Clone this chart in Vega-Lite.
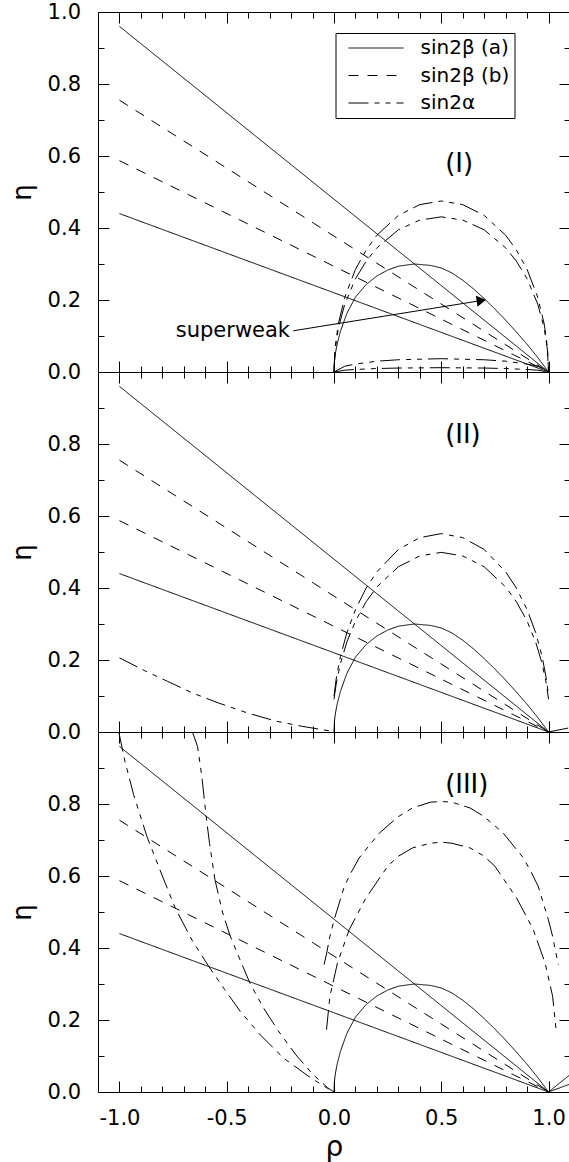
{
  "$schema": "https://vega.github.io/schema/vega-lite/v6.json",
  "padding": {"left": 8, "top": 0, "right": 0, "bottom": 0},
  "bounds": "flush",
  "spacing": 0,
  "resolve": {"scale": {"strokeDash": "independent"}, "legend": {"strokeDash": "independent"}},
  "datasets": {
    "curves": [
      {"p":0,"c":"a1","t":"sin2β (a)","x":-1,"y":0.96},{"p":0,"c":"a1","t":"sin2β (a)","x":1,"y":0},
      {"p":0,"c":"a2","t":"sin2β (a)","x":-1,"y":0.44},{"p":0,"c":"a2","t":"sin2β (a)","x":1,"y":0},
      {"p":0,"c":"a3","t":"sin2β (a)","x":0,"y":0},{"p":0,"c":"a3","t":"sin2β (a)","x":0.002,"y":0.03},{"p":0,"c":"a3","t":"sin2β (a)","x":0.005,"y":0.045},{"p":0,"c":"a3","t":"sin2β (a)","x":0.01,"y":0.063},{"p":0,"c":"a3","t":"sin2β (a)","x":0.015,"y":0.078},{"p":0,"c":"a3","t":"sin2β (a)","x":0.03,"y":0.113},{"p":0,"c":"a3","t":"sin2β (a)","x":0.06,"y":0.163},{"p":0,"c":"a3","t":"sin2β (a)","x":0.1,"y":0.208},{"p":0,"c":"a3","t":"sin2β (a)","x":0.15,"y":0.243},{"p":0,"c":"a3","t":"sin2β (a)","x":0.2,"y":0.267},{"p":0,"c":"a3","t":"sin2β (a)","x":0.25,"y":0.283},{"p":0,"c":"a3","t":"sin2β (a)","x":0.3,"y":0.294},{"p":0,"c":"a3","t":"sin2β (a)","x":0.375,"y":0.3},{"p":0,"c":"a3","t":"sin2β (a)","x":0.45,"y":0.296},{"p":0,"c":"a3","t":"sin2β (a)","x":0.5,"y":0.289},{"p":0,"c":"a3","t":"sin2β (a)","x":0.55,"y":0.275},{"p":0,"c":"a3","t":"sin2β (a)","x":0.6,"y":0.255},{"p":0,"c":"a3","t":"sin2β (a)","x":0.65,"y":0.231},{"p":0,"c":"a3","t":"sin2β (a)","x":0.7,"y":0.204},{"p":0,"c":"a3","t":"sin2β (a)","x":0.75,"y":0.175},{"p":0,"c":"a3","t":"sin2β (a)","x":0.8,"y":0.144},{"p":0,"c":"a3","t":"sin2β (a)","x":0.85,"y":0.111},{"p":0,"c":"a3","t":"sin2β (a)","x":0.9,"y":0.077},{"p":0,"c":"a3","t":"sin2β (a)","x":0.95,"y":0.04},{"p":0,"c":"a3","t":"sin2β (a)","x":1,"y":0},
      {"p":0,"c":"b1","t":"sin2β (b)","x":-1,"y":0.755},{"p":0,"c":"b1","t":"sin2β (b)","x":1,"y":0},
      {"p":0,"c":"b2","t":"sin2β (b)","x":-1,"y":0.587},{"p":0,"c":"b2","t":"sin2β (b)","x":1,"y":0},

      {"p":1,"c":"o1","t":"sin2α","x":0,"y":0},{"p":1,"c":"o1","t":"sin2α","x":0.005,"y":0.067},{"p":1,"c":"o1","t":"sin2α","x":0.02,"y":0.133},{"p":1,"c":"o1","t":"sin2α","x":0.05,"y":0.207},{"p":1,"c":"o1","t":"sin2α","x":0.1,"y":0.285},{"p":1,"c":"o1","t":"sin2α","x":0.15,"y":0.339},{"p":1,"c":"o1","t":"sin2α","x":0.2,"y":0.38},{"p":1,"c":"o1","t":"sin2α","x":0.3,"y":0.435},{"p":1,"c":"o1","t":"sin2α","x":0.4,"y":0.465},{"p":1,"c":"o1","t":"sin2α","x":0.5,"y":0.475},{"p":1,"c":"o1","t":"sin2α","x":0.6,"y":0.465},{"p":1,"c":"o1","t":"sin2α","x":0.7,"y":0.435},{"p":1,"c":"o1","t":"sin2α","x":0.8,"y":0.38},{"p":1,"c":"o1","t":"sin2α","x":0.85,"y":0.339},{"p":1,"c":"o1","t":"sin2α","x":0.9,"y":0.285},{"p":1,"c":"o1","t":"sin2α","x":0.95,"y":0.207},{"p":1,"c":"o1","t":"sin2α","x":0.98,"y":0.133},{"p":1,"c":"o1","t":"sin2α","x":0.995,"y":0.067},{"p":1,"c":"o1","t":"sin2α","x":1,"y":0},
      {"p":1,"c":"i1","t":"sin2α","x":0,"y":0},{"p":1,"c":"i1","t":"sin2α","x":0.005,"y":0.061},{"p":1,"c":"i1","t":"sin2α","x":0.02,"y":0.121},{"p":1,"c":"i1","t":"sin2α","x":0.05,"y":0.188},{"p":1,"c":"i1","t":"sin2α","x":0.1,"y":0.259},{"p":1,"c":"i1","t":"sin2α","x":0.15,"y":0.308},{"p":1,"c":"i1","t":"sin2α","x":0.2,"y":0.345},{"p":1,"c":"i1","t":"sin2α","x":0.3,"y":0.395},{"p":1,"c":"i1","t":"sin2α","x":0.4,"y":0.422},{"p":1,"c":"i1","t":"sin2α","x":0.5,"y":0.431},{"p":1,"c":"i1","t":"sin2α","x":0.6,"y":0.422},{"p":1,"c":"i1","t":"sin2α","x":0.7,"y":0.395},{"p":1,"c":"i1","t":"sin2α","x":0.8,"y":0.345},{"p":1,"c":"i1","t":"sin2α","x":0.85,"y":0.308},{"p":1,"c":"i1","t":"sin2α","x":0.9,"y":0.259},{"p":1,"c":"i1","t":"sin2α","x":0.95,"y":0.188},{"p":1,"c":"i1","t":"sin2α","x":0.98,"y":0.121},{"p":1,"c":"i1","t":"sin2α","x":0.995,"y":0.061},{"p":1,"c":"i1","t":"sin2α","x":1,"y":0},
      {"p":1,"c":"s1","t":"sin2α","x":0,"y":0},{"p":1,"c":"s1","t":"sin2α","x":0.05,"y":0.016},{"p":1,"c":"s1","t":"sin2α","x":0.1,"y":0.022},{"p":1,"c":"s1","t":"sin2α","x":0.2,"y":0.03},{"p":1,"c":"s1","t":"sin2α","x":0.3,"y":0.034},{"p":1,"c":"s1","t":"sin2α","x":0.5,"y":0.037},{"p":1,"c":"s1","t":"sin2α","x":0.7,"y":0.034},{"p":1,"c":"s1","t":"sin2α","x":0.8,"y":0.03},{"p":1,"c":"s1","t":"sin2α","x":0.9,"y":0.022},{"p":1,"c":"s1","t":"sin2α","x":0.95,"y":0.016},{"p":1,"c":"s1","t":"sin2α","x":1,"y":0},
      {"p":1,"c":"t1","t":"sin2α","x":0,"y":0},{"p":1,"c":"t1","t":"sin2α","x":0.05,"y":0.005},{"p":1,"c":"t1","t":"sin2α","x":0.1,"y":0.007},{"p":1,"c":"t1","t":"sin2α","x":0.2,"y":0.0096},{"p":1,"c":"t1","t":"sin2α","x":0.3,"y":0.011},{"p":1,"c":"t1","t":"sin2α","x":0.5,"y":0.012},{"p":1,"c":"t1","t":"sin2α","x":0.7,"y":0.011},{"p":1,"c":"t1","t":"sin2α","x":0.8,"y":0.0096},{"p":1,"c":"t1","t":"sin2α","x":0.9,"y":0.007},{"p":1,"c":"t1","t":"sin2α","x":0.95,"y":0.005},{"p":1,"c":"t1","t":"sin2α","x":1,"y":0},

      {"p":2,"c":"o2","t":"sin2α","x":0,"y":0.1},{"p":2,"c":"o2","t":"sin2α","x":0.01,"y":0.147},{"p":2,"c":"o2","t":"sin2α","x":0.03,"y":0.21},{"p":2,"c":"o2","t":"sin2α","x":0.06,"y":0.276},{"p":2,"c":"o2","t":"sin2α","x":0.1,"y":0.34},{"p":2,"c":"o2","t":"sin2α","x":0.15,"y":0.4},{"p":2,"c":"o2","t":"sin2α","x":0.2,"y":0.445},{"p":2,"c":"o2","t":"sin2α","x":0.3,"y":0.507},{"p":2,"c":"o2","t":"sin2α","x":0.4,"y":0.54},{"p":2,"c":"o2","t":"sin2α","x":0.5,"y":0.551},{"p":2,"c":"o2","t":"sin2α","x":0.6,"y":0.54},{"p":2,"c":"o2","t":"sin2α","x":0.7,"y":0.507},{"p":2,"c":"o2","t":"sin2α","x":0.8,"y":0.445},{"p":2,"c":"o2","t":"sin2α","x":0.85,"y":0.4},{"p":2,"c":"o2","t":"sin2α","x":0.9,"y":0.34},{"p":2,"c":"o2","t":"sin2α","x":0.94,"y":0.276},{"p":2,"c":"o2","t":"sin2α","x":0.97,"y":0.21},{"p":2,"c":"o2","t":"sin2α","x":0.99,"y":0.147},{"p":2,"c":"o2","t":"sin2α","x":1,"y":0.1},
      {"p":2,"c":"i2","t":"sin2α","x":0,"y":0.091},{"p":2,"c":"i2","t":"sin2α","x":0.01,"y":0.133},{"p":2,"c":"i2","t":"sin2α","x":0.03,"y":0.19},{"p":2,"c":"i2","t":"sin2α","x":0.06,"y":0.25},{"p":2,"c":"i2","t":"sin2α","x":0.1,"y":0.308},{"p":2,"c":"i2","t":"sin2α","x":0.15,"y":0.362},{"p":2,"c":"i2","t":"sin2α","x":0.2,"y":0.403},{"p":2,"c":"i2","t":"sin2α","x":0.3,"y":0.459},{"p":2,"c":"i2","t":"sin2α","x":0.4,"y":0.489},{"p":2,"c":"i2","t":"sin2α","x":0.5,"y":0.499},{"p":2,"c":"i2","t":"sin2α","x":0.6,"y":0.489},{"p":2,"c":"i2","t":"sin2α","x":0.7,"y":0.459},{"p":2,"c":"i2","t":"sin2α","x":0.8,"y":0.403},{"p":2,"c":"i2","t":"sin2α","x":0.85,"y":0.362},{"p":2,"c":"i2","t":"sin2α","x":0.9,"y":0.308},{"p":2,"c":"i2","t":"sin2α","x":0.94,"y":0.25},{"p":2,"c":"i2","t":"sin2α","x":0.97,"y":0.19},{"p":2,"c":"i2","t":"sin2α","x":0.99,"y":0.133},{"p":2,"c":"i2","t":"sin2α","x":1,"y":0.091},
      {"p":2,"c":"l2","t":"sin2α","x":-1,"y":0.206},{"p":2,"c":"l2","t":"sin2α","x":-0.878,"y":0.169},{"p":2,"c":"l2","t":"sin2α","x":-0.777,"y":0.141},{"p":2,"c":"l2","t":"sin2α","x":-0.658,"y":0.108},{"p":2,"c":"l2","t":"sin2α","x":-0.54,"y":0.081},{"p":2,"c":"l2","t":"sin2α","x":-0.404,"y":0.053},{"p":2,"c":"l2","t":"sin2α","x":-0.269,"y":0.03},{"p":2,"c":"l2","t":"sin2α","x":-0.151,"y":0.016},{"p":2,"c":"l2","t":"sin2α","x":-0.069,"y":0.008},{"p":2,"c":"l2","t":"sin2α","x":-0.02,"y":0.003},
      {"p":2,"c":"r2","t":"sin2α","x":1,"y":0},{"p":2,"c":"r2","t":"sin2α","x":1.1,"y":0.012},

      {"p":3,"c":"o3","t":"sin2α","x":-0.046,"y":0.354},{"p":3,"c":"o3","t":"sin2α","x":-0.034,"y":0.386},{"p":3,"c":"o3","t":"sin2α","x":-0.02,"y":0.43},{"p":3,"c":"o3","t":"sin2α","x":0.001,"y":0.479},{"p":3,"c":"o3","t":"sin2α","x":0.048,"y":0.571},{"p":3,"c":"o3","t":"sin2α","x":0.08,"y":0.61},{"p":3,"c":"o3","t":"sin2α","x":0.117,"y":0.65},{"p":3,"c":"o3","t":"sin2α","x":0.211,"y":0.719},{"p":3,"c":"o3","t":"sin2α","x":0.3,"y":0.765},{"p":3,"c":"o3","t":"sin2α","x":0.366,"y":0.789},{"p":3,"c":"o3","t":"sin2α","x":0.45,"y":0.805},{"p":3,"c":"o3","t":"sin2α","x":0.5,"y":0.807},{"p":3,"c":"o3","t":"sin2α","x":0.55,"y":0.805},{"p":3,"c":"o3","t":"sin2α","x":0.634,"y":0.789},{"p":3,"c":"o3","t":"sin2α","x":0.7,"y":0.765},{"p":3,"c":"o3","t":"sin2α","x":0.789,"y":0.719},{"p":3,"c":"o3","t":"sin2α","x":0.883,"y":0.65},{"p":3,"c":"o3","t":"sin2α","x":0.92,"y":0.61},{"p":3,"c":"o3","t":"sin2α","x":0.952,"y":0.571},{"p":3,"c":"o3","t":"sin2α","x":0.999,"y":0.479},{"p":3,"c":"o3","t":"sin2α","x":1.02,"y":0.43},{"p":3,"c":"o3","t":"sin2α","x":1.034,"y":0.386},{"p":3,"c":"o3","t":"sin2α","x":1.046,"y":0.354},
      {"p":3,"c":"i3","t":"sin2α","x":-0.035,"y":0.173},{"p":3,"c":"i3","t":"sin2α","x":-0.019,"y":0.266},{"p":3,"c":"i3","t":"sin2α","x":0.016,"y":0.358},{"p":3,"c":"i3","t":"sin2α","x":0.071,"y":0.451},{"p":3,"c":"i3","t":"sin2α","x":0.149,"y":0.539},{"p":3,"c":"i3","t":"sin2α","x":0.25,"y":0.627},{"p":3,"c":"i3","t":"sin2α","x":0.3,"y":0.655},{"p":3,"c":"i3","t":"sin2α","x":0.366,"y":0.678},{"p":3,"c":"i3","t":"sin2α","x":0.45,"y":0.691},{"p":3,"c":"i3","t":"sin2α","x":0.5,"y":0.694},{"p":3,"c":"i3","t":"sin2α","x":0.55,"y":0.691},{"p":3,"c":"i3","t":"sin2α","x":0.634,"y":0.678},{"p":3,"c":"i3","t":"sin2α","x":0.7,"y":0.655},{"p":3,"c":"i3","t":"sin2α","x":0.75,"y":0.627},{"p":3,"c":"i3","t":"sin2α","x":0.851,"y":0.539},{"p":3,"c":"i3","t":"sin2α","x":0.929,"y":0.451},{"p":3,"c":"i3","t":"sin2α","x":0.984,"y":0.358},{"p":3,"c":"i3","t":"sin2α","x":1.019,"y":0.266},{"p":3,"c":"i3","t":"sin2α","x":1.035,"y":0.173},
      {"p":3,"c":"P3","t":"sin2α","x":-1.003,"y":1.0},{"p":3,"c":"P3","t":"sin2α","x":-0.975,"y":0.92},{"p":3,"c":"P3","t":"sin2α","x":-0.934,"y":0.826},{"p":3,"c":"P3","t":"sin2α","x":-0.872,"y":0.71},{"p":3,"c":"P3","t":"sin2α","x":-0.8,"y":0.6},{"p":3,"c":"P3","t":"sin2α","x":-0.74,"y":0.511},{"p":3,"c":"P3","t":"sin2α","x":-0.66,"y":0.42},{"p":3,"c":"P3","t":"sin2α","x":-0.584,"y":0.349},{"p":3,"c":"P3","t":"sin2α","x":-0.51,"y":0.285},{"p":3,"c":"P3","t":"sin2α","x":-0.437,"y":0.224},{"p":3,"c":"P3","t":"sin2α","x":-0.344,"y":0.159},{"p":3,"c":"P3","t":"sin2α","x":-0.235,"y":0.094},{"p":3,"c":"P3","t":"sin2α","x":-0.11,"y":0.04},{"p":3,"c":"P3","t":"sin2α","x":-0.03,"y":0.01},{"p":3,"c":"P3","t":"sin2α","x":0,"y":0},
      {"p":3,"c":"Q3","t":"sin2α","x":-0.66,"y":1.0},{"p":3,"c":"Q3","t":"sin2α","x":-0.636,"y":0.96},{"p":3,"c":"Q3","t":"sin2α","x":-0.616,"y":0.877},{"p":3,"c":"Q3","t":"sin2α","x":-0.596,"y":0.766},{"p":3,"c":"Q3","t":"sin2α","x":-0.58,"y":0.69},{"p":3,"c":"Q3","t":"sin2α","x":-0.555,"y":0.59},{"p":3,"c":"Q3","t":"sin2α","x":-0.52,"y":0.5},{"p":3,"c":"Q3","t":"sin2α","x":-0.485,"y":0.435},{"p":3,"c":"Q3","t":"sin2α","x":-0.44,"y":0.37},{"p":3,"c":"Q3","t":"sin2α","x":-0.39,"y":0.3},{"p":3,"c":"Q3","t":"sin2α","x":-0.33,"y":0.235},{"p":3,"c":"Q3","t":"sin2α","x":-0.26,"y":0.17},{"p":3,"c":"Q3","t":"sin2α","x":-0.18,"y":0.105},{"p":3,"c":"Q3","t":"sin2α","x":-0.1,"y":0.05},{"p":3,"c":"Q3","t":"sin2α","x":-0.03,"y":0.012},{"p":3,"c":"Q3","t":"sin2α","x":0,"y":0},
      {"p":3,"c":"f1","t":"sin2β (a)","x":1,"y":0},{"p":3,"c":"f1","t":"sin2β (a)","x":1.1,"y":0.048},
      {"p":3,"c":"f2","t":"sin2β (a)","x":1,"y":0},{"p":3,"c":"f2","t":"sin2β (a)","x":1.1,"y":0.022}
    ],
    "notes": [
      {"p":1,"label":"(I)","x":0.518,"y":0.578},
      {"p":2,"label":"(II)","x":0.518,"y":0.826},
      {"p":3,"label":"(III)","x":0.518,"y":0.854}
    ],
    "superweak": [
      {"label":"superweak","x":-0.205,"y":0.114,"x2":0.687,"y2":0.1985,"x0":-0.19,"y0":0.1145}
    ]
  },
  "vconcat": [
    {
      "width": 472, "height": 360,
      "resolve": {"axis": {"x": "independent", "y": "independent"}},
      "layer": [
        {
          "data": {"name": "curves"},
          "transform": [{"filter": "(datum.p == 0 || datum.p == 1) && datum.t == 'sin2β (a)'"}],
          "mark": {"type": "line", "clip": true, "color": "black", "strokeWidth": 1},
          "encoding": {
            "x": {"field": "x", "type": "quantitative", "scale": {"domain": [-1.1, 1.1], "nice": false, "zero": false}, "axis": {"orient": "bottom", "values": [-1, -0.5, 0, 0.5, 1], "tickSize": -11, "labels": false, "title": null}},
            "y": {"field": "y", "type": "quantitative", "scale": {"domain": [0, 1], "nice": false, "zero": false}, "axis": {"orient": "left", "values": [0, 0.2, 0.4, 0.6, 0.8, 1], "tickSize": -11, "labelPadding": 28.5, "format": ".1f", "title": "η", "titleFontSize": 26, "titlePadding": 12}},
            "detail": {"field": "c"},
            "strokeDash": {"field": "t", "type": "nominal", "scale": {"domain": ["sin2β (a)", "sin2β (b)", "sin2α"], "range": [[1, 0], [10, 9], [20, 6, 5, 6, 5, 6]]},
              "legend": {"orient": "none", "legendX": 237.5, "legendY": 21, "title": null, "strokeColor": "black", "fillColor": "white", "padding": 5, "symbolType": "M-0.21,0H5.58", "symbolSize": 361, "symbolStrokeWidth": 1, "symbolStrokeColor": "black", "labelFontSize": 20, "labelFont": "DejaVu Sans", "labelColor": "black", "labelOffset": 60, "rowPadding": 7.5}}
          }
        },
        {
          "data": {"name": "curves"},
          "transform": [{"filter": "(datum.p == 0 || datum.p == 1) && datum.t == 'sin2β (b)'"}],
          "mark": {"type": "line", "clip": true, "color": "black", "strokeWidth": 1},
          "encoding": {
            "x": {"field": "x", "type": "quantitative", "scale": {"domain": [-1.1, 1.1], "nice": false, "zero": false}, "axis": {"orient": "bottom", "values": [-0.9, -0.8, -0.7, -0.6, -0.4, -0.3, -0.2, -0.1, 0.1, 0.2, 0.3, 0.4, 0.6, 0.7, 0.8, 0.9], "tickSize": -6, "labels": false, "title": null}},
            "y": {"field": "y", "type": "quantitative", "scale": {"domain": [0, 1], "nice": false, "zero": false}, "axis": {"orient": "left", "values": [0.1, 0.3, 0.5, 0.7, 0.9], "tickSize": -6, "labels": false, "title": null}},
            "detail": {"field": "c"},
            "strokeDash": {"field": "t", "type": "nominal", "scale": {"domain": ["sin2β (a)", "sin2β (b)", "sin2α"], "range": [[1, 0], [10, 9], [20, 6, 5, 6, 5, 6]]},
              "legend": {"orient": "none", "legendX": 237.5, "legendY": 21, "title": null, "strokeColor": "black", "fillColor": "white", "padding": 5, "symbolType": "M-0.21,0H5.58", "symbolSize": 361, "symbolStrokeWidth": 1, "symbolStrokeColor": "black", "labelFontSize": 20, "labelFont": "DejaVu Sans", "labelColor": "black", "labelOffset": 60, "rowPadding": 7.5}}
          }
        },
        {
          "data": {"name": "curves"},
          "transform": [{"filter": "datum.p == 1 && datum.t == 'sin2α'"}],
          "mark": {"type": "line", "clip": true, "color": "black", "strokeWidth": 1},
          "encoding": {
            "x": {"field": "x", "type": "quantitative", "scale": {"domain": [-1.1, 1.1], "nice": false, "zero": false}, "axis": {"orient": "top", "values": [-1, -0.5, 0, 0.5, 1], "tickSize": -11, "labels": false, "title": null}},
            "y": {"field": "y", "type": "quantitative", "scale": {"domain": [0, 1], "nice": false, "zero": false}, "axis": {"orient": "right", "values": [0, 0.2, 0.4, 0.6, 0.8, 1], "tickSize": -11, "labels": false, "title": null}},
            "detail": {"field": "c"},
            "strokeDash": {"field": "t", "type": "nominal", "scale": {"domain": ["sin2β (a)", "sin2β (b)", "sin2α"], "range": [[1, 0], [10, 9], [20, 6, 5, 6, 5, 6]]},
              "legend": {"orient": "none", "legendX": 237.5, "legendY": 21, "title": null, "strokeColor": "black", "fillColor": "white", "padding": 5, "symbolType": "M-0.21,0H5.58", "symbolSize": 361, "symbolStrokeWidth": 1, "symbolStrokeColor": "black", "labelFontSize": 20, "labelFont": "DejaVu Sans", "labelColor": "black", "labelOffset": 60, "rowPadding": 7.5}}
          }
        },
        {
          "data": {"name": "notes"},
          "transform": [{"filter": "datum.p == 1"}],
          "mark": {"type": "text", "align": "left", "baseline": "middle", "fontSize": 26, "font": "DejaVu Sans", "color": "black"},
          "encoding": {
            "x": {"field": "x", "type": "quantitative", "scale": {"domain": [-1.1, 1.1], "nice": false, "zero": false}, "axis": {"orient": "top", "values": [-0.9, -0.8, -0.7, -0.6, -0.4, -0.3, -0.2, -0.1, 0.1, 0.2, 0.3, 0.4, 0.6, 0.7, 0.8, 0.9], "tickSize": -6, "labels": false, "title": null}},
            "y": {"field": "y", "type": "quantitative", "scale": {"domain": [0, 1], "nice": false, "zero": false}, "axis": {"orient": "right", "values": [0.1, 0.3, 0.5, 0.7, 0.9], "tickSize": -6, "labels": false, "title": null}},
            "text": {"field": "label"}
          }
        },
        {
          "data": {"name": "superweak"},
          "mark": {"type": "text", "align": "right", "baseline": "middle", "fontSize": 21, "font": "DejaVu Sans", "color": "black"},
          "encoding": {
            "x": {"field": "x", "type": "quantitative", "scale": {"domain": [-1.1, 1.1], "nice": false, "zero": false}, "axis": null},
            "y": {"field": "y", "type": "quantitative", "scale": {"domain": [0, 1], "nice": false, "zero": false}, "axis": null},
            "text": {"field": "label"}
          }
        },
        {
          "data": {"name": "superweak"},
          "mark": {"type": "rule", "color": "black", "strokeWidth": 1},
          "encoding": {
            "x": {"field": "x0", "type": "quantitative", "scale": {"domain": [-1.1, 1.1], "nice": false, "zero": false}, "axis": null},
            "y": {"field": "y0", "type": "quantitative", "scale": {"domain": [0, 1], "nice": false, "zero": false}, "axis": null},
            "x2": {"field": "x2"},
            "y2": {"field": "y2"}
          }
        },
        {
          "data": {"name": "superweak"},
          "mark": {"type": "point", "shape": "triangle-right", "filled": true, "size": 120, "angle": 351, "color": "black", "opacity": 1},
          "encoding": {
            "x": {"field": "x2", "type": "quantitative", "scale": {"domain": [-1.1, 1.1], "nice": false, "zero": false}, "axis": null},
            "y": {"field": "y2", "type": "quantitative", "scale": {"domain": [0, 1], "nice": false, "zero": false}, "axis": null}
          }
        }
      ]
    },
    {
      "width": 472, "height": 360,
      "resolve": {"axis": {"x": "independent", "y": "independent"}},
      "layer": [
        {
          "data": {"name": "curves"},
          "transform": [{"filter": "(datum.p == 0 || datum.p == 2) && datum.t == 'sin2β (a)'"}],
          "mark": {"type": "line", "clip": true, "color": "black", "strokeWidth": 1},
          "encoding": {
            "x": {"field": "x", "type": "quantitative", "scale": {"domain": [-1.1, 1.1], "nice": false, "zero": false}, "axis": {"orient": "bottom", "values": [-1, -0.5, 0, 0.5, 1], "tickSize": -11, "labels": false, "title": null}},
            "y": {"field": "y", "type": "quantitative", "scale": {"domain": [0, 1], "nice": false, "zero": false}, "axis": {"orient": "left", "values": [0, 0.2, 0.4, 0.6, 0.8], "tickSize": -11, "labelPadding": 28.5, "format": ".1f", "title": "η", "titleFontSize": 26, "titlePadding": 12}},
            "detail": {"field": "c"},
            "strokeDash": {"field": "t", "type": "nominal", "scale": {"domain": ["sin2β (a)", "sin2β (b)", "sin2α"], "range": [[1, 0], [10, 9], [20, 6, 5, 6, 5, 6]]}, "legend": null}
          }
        },
        {
          "data": {"name": "curves"},
          "transform": [{"filter": "(datum.p == 0 || datum.p == 2) && datum.t == 'sin2β (b)'"}],
          "mark": {"type": "line", "clip": true, "color": "black", "strokeWidth": 1},
          "encoding": {
            "x": {"field": "x", "type": "quantitative", "scale": {"domain": [-1.1, 1.1], "nice": false, "zero": false}, "axis": {"orient": "bottom", "values": [-0.9, -0.8, -0.7, -0.6, -0.4, -0.3, -0.2, -0.1, 0.1, 0.2, 0.3, 0.4, 0.6, 0.7, 0.8, 0.9], "tickSize": -6, "labels": false, "title": null}},
            "y": {"field": "y", "type": "quantitative", "scale": {"domain": [0, 1], "nice": false, "zero": false}, "axis": {"orient": "left", "values": [0.1, 0.3, 0.5, 0.7, 0.9], "tickSize": -6, "labels": false, "title": null}},
            "detail": {"field": "c"},
            "strokeDash": {"field": "t", "type": "nominal", "scale": {"domain": ["sin2β (a)", "sin2β (b)", "sin2α"], "range": [[1, 0], [10, 9], [20, 6, 5, 6, 5, 6]]}, "legend": null}
          }
        },
        {
          "data": {"name": "curves"},
          "transform": [{"filter": "datum.p == 2 && datum.t == 'sin2α'"}],
          "mark": {"type": "line", "clip": true, "color": "black", "strokeWidth": 1},
          "encoding": {
            "x": {"field": "x", "type": "quantitative", "scale": {"domain": [-1.1, 1.1], "nice": false, "zero": false}, "axis": {"orient": "top", "values": [-1, -0.5, 0, 0.5, 1], "tickSize": -11, "labels": false, "title": null}},
            "y": {"field": "y", "type": "quantitative", "scale": {"domain": [0, 1], "nice": false, "zero": false}, "axis": {"orient": "right", "values": [0, 0.2, 0.4, 0.6, 0.8, 1], "tickSize": -11, "labels": false, "title": null}},
            "detail": {"field": "c"},
            "strokeDash": {"field": "t", "type": "nominal", "scale": {"domain": ["sin2β (a)", "sin2β (b)", "sin2α"], "range": [[1, 0], [10, 9], [20, 6, 5, 6, 5, 6]]}, "legend": null}
          }
        },
        {
          "data": {"name": "notes"},
          "transform": [{"filter": "datum.p == 2"}],
          "mark": {"type": "text", "align": "left", "baseline": "middle", "fontSize": 26, "font": "DejaVu Sans", "color": "black"},
          "encoding": {
            "x": {"field": "x", "type": "quantitative", "scale": {"domain": [-1.1, 1.1], "nice": false, "zero": false}, "axis": {"orient": "top", "values": [-0.9, -0.8, -0.7, -0.6, -0.4, -0.3, -0.2, -0.1, 0.1, 0.2, 0.3, 0.4, 0.6, 0.7, 0.8, 0.9], "tickSize": -6, "labels": false, "title": null}},
            "y": {"field": "y", "type": "quantitative", "scale": {"domain": [0, 1], "nice": false, "zero": false}, "axis": {"orient": "right", "values": [0.1, 0.3, 0.5, 0.7, 0.9], "tickSize": -6, "labels": false, "title": null}},
            "text": {"field": "label"}
          }
        }
      ]
    },
    {
      "width": 472, "height": 360,
      "resolve": {"axis": {"x": "independent", "y": "independent"}},
      "layer": [
        {
          "data": {"name": "curves"},
          "transform": [{"filter": "(datum.p == 0 || datum.p == 3) && datum.t == 'sin2β (a)'"}],
          "mark": {"type": "line", "clip": true, "color": "black", "strokeWidth": 1},
          "encoding": {
            "x": {"field": "x", "type": "quantitative", "scale": {"domain": [-1.1, 1.1], "nice": false, "zero": false}, "axis": {"orient": "bottom", "values": [-1, -0.5, 0, 0.5, 1], "tickSize": -11, "labelPadding": 26, "labelExpr": "replace(format(datum.value, '.1f'), '−', '-')", "title": "ρ", "titleFontSize": 28, "titlePadding": 5}},
            "y": {"field": "y", "type": "quantitative", "scale": {"domain": [0, 1], "nice": false, "zero": false}, "axis": {"orient": "left", "values": [0, 0.2, 0.4, 0.6, 0.8], "tickSize": -11, "labelPadding": 28.5, "format": ".1f", "title": "η", "titleFontSize": 26, "titlePadding": 12}},
            "detail": {"field": "c"},
            "strokeDash": {"field": "t", "type": "nominal", "scale": {"domain": ["sin2β (a)", "sin2β (b)", "sin2α"], "range": [[1, 0], [10, 9], [20, 6, 5, 6, 5, 6]]}, "legend": null}
          }
        },
        {
          "data": {"name": "curves"},
          "transform": [{"filter": "(datum.p == 0 || datum.p == 3) && datum.t == 'sin2β (b)'"}],
          "mark": {"type": "line", "clip": true, "color": "black", "strokeWidth": 1},
          "encoding": {
            "x": {"field": "x", "type": "quantitative", "scale": {"domain": [-1.1, 1.1], "nice": false, "zero": false}, "axis": {"orient": "bottom", "values": [-0.9, -0.8, -0.7, -0.6, -0.4, -0.3, -0.2, -0.1, 0.1, 0.2, 0.3, 0.4, 0.6, 0.7, 0.8, 0.9], "tickSize": -6, "labels": false, "title": null}},
            "y": {"field": "y", "type": "quantitative", "scale": {"domain": [0, 1], "nice": false, "zero": false}, "axis": {"orient": "left", "values": [0.1, 0.3, 0.5, 0.7, 0.9], "tickSize": -6, "labels": false, "title": null}},
            "detail": {"field": "c"},
            "strokeDash": {"field": "t", "type": "nominal", "scale": {"domain": ["sin2β (a)", "sin2β (b)", "sin2α"], "range": [[1, 0], [10, 9], [20, 6, 5, 6, 5, 6]]}, "legend": null}
          }
        },
        {
          "data": {"name": "curves"},
          "transform": [{"filter": "datum.p == 3 && datum.t == 'sin2α'"}],
          "mark": {"type": "line", "clip": true, "color": "black", "strokeWidth": 1},
          "encoding": {
            "x": {"field": "x", "type": "quantitative", "scale": {"domain": [-1.1, 1.1], "nice": false, "zero": false}, "axis": {"orient": "top", "values": [-1, -0.5, 0, 0.5, 1], "tickSize": -11, "labels": false, "title": null}},
            "y": {"field": "y", "type": "quantitative", "scale": {"domain": [0, 1], "nice": false, "zero": false}, "axis": {"orient": "right", "values": [0, 0.2, 0.4, 0.6, 0.8, 1], "tickSize": -11, "labels": false, "title": null}},
            "detail": {"field": "c"},
            "strokeDash": {"field": "t", "type": "nominal", "scale": {"domain": ["sin2β (a)", "sin2β (b)", "sin2α"], "range": [[1, 0], [10, 9], [20, 6, 5, 6, 5, 6]]}, "legend": null}
          }
        },
        {
          "data": {"name": "notes"},
          "transform": [{"filter": "datum.p == 3"}],
          "mark": {"type": "text", "align": "left", "baseline": "middle", "fontSize": 26, "font": "DejaVu Sans", "color": "black"},
          "encoding": {
            "x": {"field": "x", "type": "quantitative", "scale": {"domain": [-1.1, 1.1], "nice": false, "zero": false}, "axis": {"orient": "top", "values": [-0.9, -0.8, -0.7, -0.6, -0.4, -0.3, -0.2, -0.1, 0.1, 0.2, 0.3, 0.4, 0.6, 0.7, 0.8, 0.9], "tickSize": -6, "labels": false, "title": null}},
            "y": {"field": "y", "type": "quantitative", "scale": {"domain": [0, 1], "nice": false, "zero": false}, "axis": {"orient": "right", "values": [0.1, 0.3, 0.5, 0.7, 0.9], "tickSize": -6, "labels": false, "title": null}},
            "text": {"field": "label"}
          }
        }
      ]
    }
  ],
  "config": {
    "font": "DejaVu Sans",
    "view": {"stroke": "black", "strokeWidth": 1},
    "axis": {"grid": false, "domain": false, "tickColor": "black", "tickWidth": 1, "labelColor": "black", "titleColor": "black", "labelFont": "DejaVu Sans", "labelFontSize": 21, "titleFont": "DejaVu Sans", "titleFontWeight": "normal", "labelFlush": false, "labelOverlap": false}
  }
}
